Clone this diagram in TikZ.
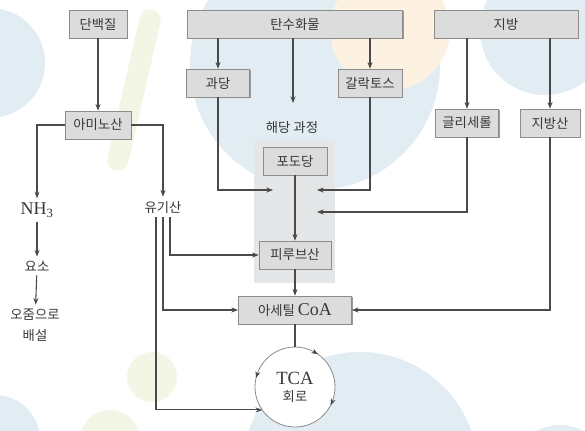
\documentclass[tikz,border=0pt]{standalone}
\usepackage{fontspec}
\setmainfont{Liberation Serif}
\newfontfamily\kr{Noto Sans CJK KR}
\usetikzlibrary{calc,shadows,arrows.meta}

\definecolor{boxfill}{HTML}{DCDCDC}
\definecolor{boxline}{HTML}{8C8C8C}
\definecolor{linecol}{HTML}{4A4A4A}
\definecolor{txt}{HTML}{383838}
\definecolor{glycoshade}{HTML}{E4E6E8}
\definecolor{wmblue}{HTML}{E1EDF3}
\definecolor{wmgreen}{HTML}{F3F6E4}
\definecolor{wmorange}{HTML}{FDF2E2}

\begin{document}
\begin{tikzpicture}[x=0.75pt, y=-0.75pt, >={Stealth[length=5pt,width=3.8pt]},
    box/.style={draw=boxline, fill=boxfill, text=txt, font={\kr\fontsize{10}{12}\selectfont},
      minimum height=21pt, inner sep=2pt,
      drop shadow={shadow xshift=1pt, shadow yshift=-1pt, fill=black!40, opacity=1}},
    lbl/.style={text=txt, font={\kr\fontsize{10}{12}\selectfont}, inner sep=3pt},
    serif/.style={text=txt, font={\fontsize{13.5}{15}\selectfont}, inner sep=3pt},
    link/.style={draw=linecol, line width=0.8pt}]
  \useasboundingbox (0,0) rectangle (585,430);
  \fill[white] (0,0) rectangle (585,430);

  % faint circles in the background
  \begin{scope}
    \clip (0,0) rectangle (585,430);
    \fill[wmblue] (-10,63) circle (55);
    \fill[wmblue] (315,65) circle (125);
    \fill[wmorange] (390,30) circle (60);
    \fill[wmblue] (545,30) circle (65);
    \fill[wmblue] (360,470) circle (118);
    \fill[wmblue] (560,475) circle (50);
    \fill[wmgreen] (152,377) circle (25);
    \fill[wmgreen] (110,440) circle (30);
    \fill[wmblue] (-5,440) circle (45);
    \draw[wmgreen, line width=16pt, line cap=round] (150,20) -- (118,160);
  \end{scope}

  % glycolysis area
  \fill[glycoshade] (254,140) rectangle (335,283);

  \node[box, minimum width=43.5pt] (protein) at (98,24) {단백질};
  \node[box, minimum width=161pt] (carb) at (295,24) {탄수화물};
  \node[box, minimum width=108pt] (fat) at (506,24) {지방};
  \node[box, minimum width=47pt] (fructose) at (218,83) {과당};
  \node[box, minimum width=48pt] (galactose) at (370,83) {갈락토스};
  \node[box, minimum width=49.5pt] (amino) at (98,125) {아미노산};
  \node[box, minimum width=47pt] (glycerol) at (467,123) {글리세롤};
  \node[box, minimum width=45pt] (fattyacid) at (550,123) {지방산};
  \node[lbl] (glycolysis) at (292,127) {해당 과정};
  \node[box, minimum width=48pt] (glucose) at (295,161) {포도당};
  \node[box, minimum width=54pt] (pyruvate) at (295,255) {피루브산};
  \node[box, minimum width=85pt] (acetyl) at (295,310)
    {아세틸 {\rmfamily\fontsize{13.5}{15}\selectfont CoA}};
  \node[circle, draw=boxline, fill=white, line width=0.6pt, minimum size=60pt, inner sep=0pt,
    outer sep=0pt, text=txt, align=center] (tca) at (295,387)
    {{\fontsize{14}{14}\selectfont TCA}\\[1pt]{\kr\fontsize{10}{12}\selectfont 회로}};

  \node[serif] (nh3) at (37,210) {NH\textsubscript{3}};
  \node[lbl] (urea) at (37,266) {요소};
  \node[lbl, align=center, font={\kr\fontsize{10}{15.5}\selectfont}] (urine) at (35,325) {오줌으로\\배설};
  \node[lbl] (organic) at (163,207) {유기산};

  \coordinate (glycolysis-in) at (293,103);
  \coordinate (fructose-in) at (273,190);
  \coordinate (galactose-in) at (317,190);
  \coordinate (glycerol-in) at (317,212);

  \draw[link, ->] (protein) -- (amino);
  \draw[link, ->] (fructose.north |- carb.south) -- (fructose.north);
  \draw[link, ->] (glycolysis-in |- carb.south) -- (glycolysis-in);
  \draw[link, ->] (galactose.north |- carb.south) -- (galactose.north);
  \draw[link, ->] (glycerol.north |- fat.south) -- (glycerol.north);
  \draw[link, ->] (fattyacid.north |- fat.south) -- (fattyacid.north);

  \draw[link, ->] (fructose.south) |- (fructose-in);
  \draw[link, ->] (galactose.south) |- (galactose-in);
  \draw[link, ->] (glycerol.south) |- (glycerol-in);
  \draw[link, ->] (glucose) -- (pyruvate);
  \draw[link, ->] (pyruvate) -- (acetyl);
  \draw[link] (acetyl) -- (tca);
  \draw[link, ->] (fattyacid.south) |- (acetyl.east);

  \draw[link, ->] (amino.west) -| (nh3.north);
  \draw[link, ->] (amino.east) -| (organic.north);
  \draw[link, ->] (nh3) -- (urea);
  \draw[link, ->] (urea) -- (urine);

  \draw[link, ->] ($(organic.south)+(7,0)$) |- (pyruvate.west);
  \draw[link, ->] (organic.south) |- (acetyl.west);
  \draw[link, ->] ($(organic.south)+(-7,0)$) |- (tca.215);

  % cycle direction
  \draw[draw=linecol, line width=0.6pt, ->] (tca.62) -- (tca.55);
  \draw[draw=linecol, line width=0.6pt, ->] (tca.-20) -- (tca.-27);
  \draw[draw=linecol, line width=0.6pt, ->] (tca.160) -- (tca.167);
\end{tikzpicture}
\end{document}
